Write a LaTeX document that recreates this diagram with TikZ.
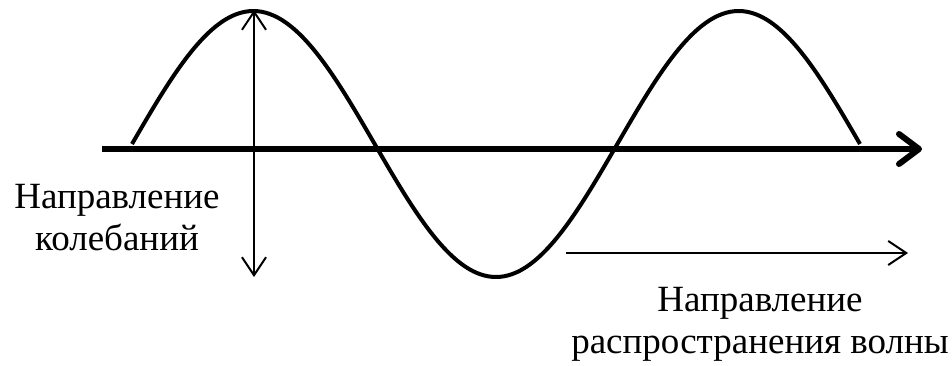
\documentclass[tikz,border=0pt]{standalone}
\usepackage{fontspec}
\setmainfont{Liberation Serif}
\usetikzlibrary{arrows.meta}

\begin{document}
\begin{tikzpicture}[x=1pt,y=-1pt,font=\fontsize{37}{42}\selectfont,
  >={Straight Barb[length=18pt,width=24pt]},
  axisline/.style={line width=6pt,-{Straight Barb[length=20pt,width=30pt,line cap=round,line join=round]}},
  waveline/.style={line width=4pt},
  dirarrow/.style={line width=2pt},
  dirtext/.style={align=center,inner sep=0pt,anchor=north}]
\useasboundingbox (0,0) rectangle (952,365);
% ================= Points =================
\coordinate (axisL) at (102,149);
\coordinate (axisR) at (922,149);
\coordinate (peak) at (254,10);
\coordinate (oscB) at (254,277);
\coordinate (propL) at (566,253);
\coordinate (propR) at (908,253);

% ================= Axis and wave =================
\draw[axisline] (axisL) -- (axisR);
\draw[waveline] plot[domain=0:540,samples=181,smooth] ({132+1.348148*\x},{144-133*sin(\x)});

% ================= Directions =================
\draw[dirarrow,<->] (oscB) -- (peak);
\draw[dirarrow,->] (propL) -- (propR);
\node[dirtext] (osc) at (117,184) {Направление\\колебаний};
\node[dirtext] (prop) at (760,287) {Направление\\распространения волны};
\end{tikzpicture}
\end{document}
